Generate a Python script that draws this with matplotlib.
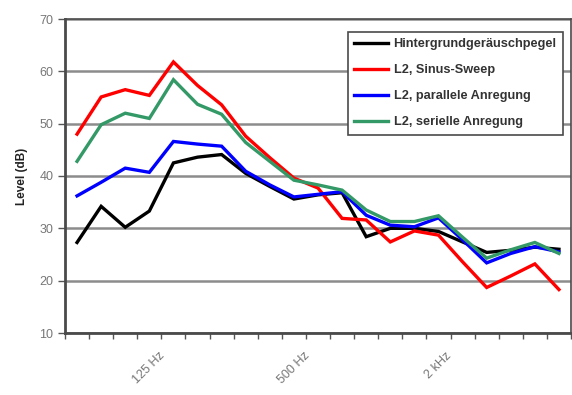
import matplotlib
matplotlib.use("Agg")
import matplotlib.pyplot as plt
import numpy as np

# third-octave bands 63 Hz .. 6.3 kHz
baender = ["63", "80", "100", "125", "160", "200", "250", "315", "400", "500",
           "630", "800", "1k", "1.25k", "1.6k", "2k", "2.5k", "3.15k", "4k", "5k", "6.3k"]
beschriftung = {3: "125 Hz", 9: "500 Hz", 15: "2 kHz"}

hintergrund = [27.3, 34.2, 30.2, 33.3, 42.5, 43.6, 44.1, 40.5, 38.0, 35.6, 36.4,
               36.8, 28.4, 30.0, 30.0, 29.4, 27.4, 25.4, 25.8, 26.4, 26.0]
sinus_sweep = [48.0, 55.1, 56.5, 55.4, 61.8, 57.3, 53.6, 47.6, 43.5, 39.6, 37.7,
               31.9, 31.6, 27.4, 29.5, 28.7, 23.6, 18.7, 20.9, 23.2, 18.3]
parallel = [36.2, 38.8, 41.5, 40.7, 46.6, 46.1, 45.7, 40.9, 38.3, 36.0, 36.5,
            37.0, 32.5, 30.6, 30.3, 32.0, 27.8, 23.4, 25.2, 26.5, 25.5]
seriell = [42.8, 49.8, 52.0, 51.0, 58.4, 53.7, 51.8, 46.4, 42.8, 39.2, 38.3,
           37.3, 33.5, 31.3, 31.3, 32.4, 28.3, 24.3, 25.9, 27.3, 25.2]

reihen = [
    ("Hintergrundgeräuschpegel", hintergrund, "black"),
    ("L2, Sinus-Sweep", sinus_sweep, "#ff0000"),
    ("L2, parallele Anregung", parallel, "#0000ff"),
    ("L2, serielle Anregung", seriell, "#339966"),
]

plt.rcParams['font.family'] = ['Liberation Sans', 'DejaVu Sans']

fig = plt.figure(figsize=(5.72, 3.95), dpi=100)
ax = fig.add_axes([65/572, 62/395, 506/572, 314/395])

x = np.arange(len(baender))
for name, werte, farbe in reihen:
    ax.plot(x, werte, color=farbe, lw=2.4, label=name, solid_joinstyle='miter')

ax.set_xlim(-0.5, len(baender) - 0.5)
ax.set_ylim(10, 70)
ax.set_yticks(range(10, 71, 10))
ax.yaxis.grid(True, color='#8c8c8c', lw=1.8)
ax.set_axisbelow(True)

# tick marks between categories, labels only on a few bands
ax.set_xticks(np.arange(len(baender) + 1) - 0.5)
ax.set_xticklabels([])
ax.set_xticks(list(beschriftung.keys()), minor=True)
ax.set_xticklabels(list(beschriftung.values()), minor=True, rotation=45,
                   ha='center', color='#777777', fontsize=9)
ax.tick_params(axis='x', which='minor', length=0, pad=12)
ax.tick_params(axis='x', which='major', length=4, color='#555555', width=1)
ax.tick_params(axis='y', length=5, color='#555555', width=1,
               labelcolor='#777777', labelsize=9)

for s in ax.spines.values():
    s.set_color('#4a4a4a')
    s.set_linewidth(1.2)
ax.spines['left'].set_linewidth(2)
ax.spines['bottom'].set_linewidth(2)

ax.set_ylabel("Level (dB)", fontsize=8.5, fontweight='bold', color='#222222', labelpad=8)

leg = ax.legend(loc='upper right', bbox_to_anchor=(0.984, 0.959), fancybox=False,
                framealpha=1, edgecolor='#4a4a4a', handlelength=2.7,
                prop={'size': 9.2, 'weight': 'bold'}, labelspacing=1.1,
                borderpad=0.5, borderaxespad=0, handletextpad=0.4)
leg.get_frame().set_linewidth(1.2)
for t in leg.get_texts():
    t.set_color('#333333')

fig.savefig("out.png", dpi=100)
